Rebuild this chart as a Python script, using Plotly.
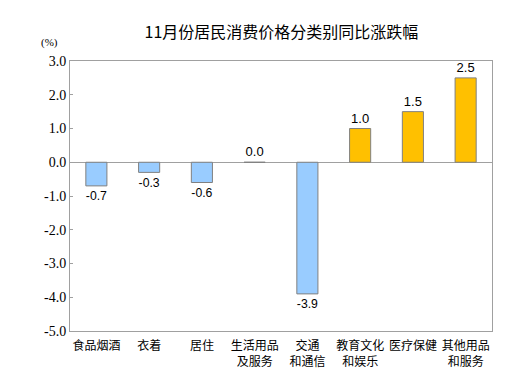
import plotly.graph_objects as go

categories = ["食品烟酒", "衣着", "居住", "生活用品<br>及服务", "交通<br>和通信", "教育文化<br>和娱乐", "医疗保健", "其他用品<br>和服务"]
values = [-0.7, -0.3, -0.6, 0.0, -3.9, 1.0, 1.5, 2.5]
tick_vals = [3, 2, 1, 0, -1, -2, -3, -4, -5]
tick_text = ["3.0", "2.0", "1.0", "0.0", "-1.0", "-2.0", "-3.0", "-4.0", "-5.0"]
title = "11月份居民消费价格分类别同比涨跌幅"

colors = ["#99CCFF" if v < 0 else "#FFC000" for v in values]

fig = go.Figure(go.Bar(
    x=list(range(len(categories))), y=values,
    marker=dict(color=colors, line=dict(color="#808080", width=1)),
    width=0.4,
    text=[f"{v:.1f}" for v in values],
    textposition="outside",
    textfont=dict(family="Liberation Sans, Arial", size=13, color="black"),
    cliponaxis=False,
))

# page body has an 8px margin; figure is sized/offset to compensate
fig.update_layout(
    width=518, height=372,
    margin=dict(l=62, r=34, t=53, b=49),
    paper_bgcolor="white", plot_bgcolor="white",
    showlegend=False,
    title=dict(text=title, x=0.528, xanchor="center", y=0.935, yanchor="middle",
               font=dict(family="Noto Sans CJK SC", size=16, color="black")),
    xaxis=dict(tickvals=list(range(len(categories))), ticktext=categories,
               range=[-0.5, len(categories) - 0.5],
               showline=True, linecolor="#A0A0A0", mirror=True, ticks="",
               ticklabelstandoff=4,
               tickfont=dict(family="Noto Sans CJK SC", size=12, color="black"),
               showgrid=False, automargin=False),
    yaxis=dict(range=[-5, 3], tickvals=tick_vals, ticktext=tick_text,
               showline=True, linecolor="#A0A0A0", mirror=True,
               ticks="inside", ticklen=3, tickcolor="#A0A0A0",
               tickfont=dict(family="Liberation Serif, serif", size=14, color="black"),
               showgrid=False, zeroline=True, zerolinecolor="#A0A0A0", zerolinewidth=1,
               automargin=False),
    annotations=[dict(text="(%)", xref="paper", yref="paper", x=-0.024, y=1.067,
                      xanchor="right", yanchor="middle", showarrow=False,
                      font=dict(family="Liberation Serif, serif", size=11, color="black"))],
)

fig.write_html("out.html")
